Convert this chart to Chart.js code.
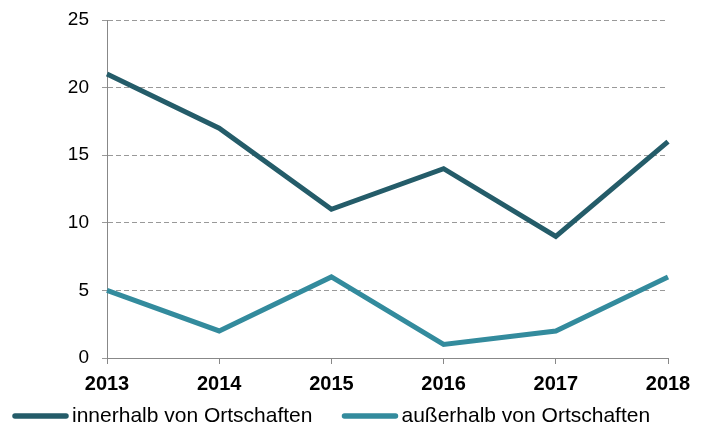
<!DOCTYPE html>
<html><head><meta charset="utf-8">
<script src="https://cdn.jsdelivr.net/npm/chart.js@4/dist/chart.umd.min.js"></script>
<style>html,body{margin:0;padding:0;background:#fff}#wrap{width:708px;height:425px}</style>
</head><body><div id="wrap"><canvas id="c" width="708" height="425"></canvas></div>
<script>
const years = ['2013','2014','2015','2016','2017','2018'];
const innerhalb = [21,17,11,14,9,16];
const ausserhalb = [5,2,6,1,2,6];
const seriesNames = ['innerhalb von Ortschaften','außerhalb von Ortschaften'];
const yTicks = [0,5,10,15,20,25];

const FONT = 'Liberation Sans, Arial, sans-serif';
const cDark = '#245c69', cLight = '#338b9d';

const customLegend = {
  id:'customLegend',
  afterDraw(chart){
    const ctx = chart.ctx;
    ctx.save();
    ctx.font = '21px ' + FONT;
    ctx.textBaseline = 'middle';
    ctx.textAlign = 'left';
    let x = 13;
    const y = 416;
    chart.data.datasets.forEach(ds=>{
      ctx.strokeStyle = ds.borderColor;
      ctx.lineWidth = 5.5;
      ctx.lineCap = 'round';
      ctx.beginPath();
      ctx.moveTo(x+2, y);
      ctx.lineTo(x+53, y);
      ctx.stroke();
      ctx.fillStyle = '#000';
      ctx.fillText(ds.label, x+59, y);
      x += 59 + ctx.measureText(ds.label).width + 30;
    });
    ctx.restore();
  }
};

new Chart(document.getElementById('c'), {
  type:'line',
  data:{labels:years, datasets:[
    {label:seriesNames[0], data:innerhalb, borderColor:cDark, backgroundColor:cDark, borderWidth:5, pointRadius:0, tension:0},
    {label:seriesNames[1], data:ausserhalb, borderColor:cLight, backgroundColor:cLight, borderWidth:5, pointRadius:0, tension:0}
  ]},
  plugins:[customLegend],
  options:{
    responsive:false, animation:false,
    layout:{padding:{left:0,right:40,top:20,bottom:21}},
    plugins:{ tooltip:{enabled:false}, legend:{display:false} },
    scales:{
      x:{offset:false,
        grid:{drawOnChartArea:false, drawTicks:true, tickLength:6, color:'#888'},
        border:{color:'#888', width:1},
        ticks:{color:'#000', padding:8, font:{family:FONT, size:20, weight:'bold'}, maxRotation:0}
      },
      y:{min:0,max:25,
        afterBuildTicks(axis){axis.ticks = yTicks.map(v=>({value:v}));},
        afterFit(axis){axis.width = 107; axis.paddingTop = 0; axis.paddingBottom = 0;},
        grid:{color:'#999', tickLength:5},
        border:{color:'#888', dash:[5,3], width:1},
        ticks:{color:'#000', padding:13, font:{family:FONT, size:19}}
      }
    }
  }
});
</script></body></html>
